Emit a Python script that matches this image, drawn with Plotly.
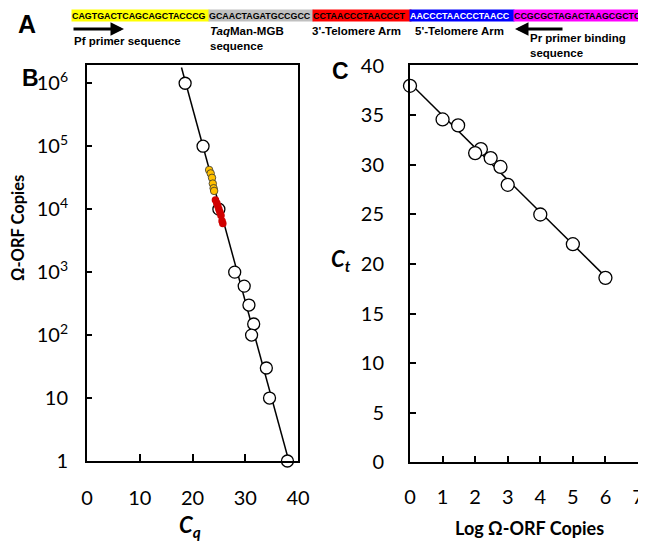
import numpy as np
import plotly.graph_objects as go

# ---------------- data ----------------
copies = [1e6, 1e5, 1e4, 1e3, 600, 300, 150, 100, 30, 10, 1]
cq_std = [18.6, 22.0, 25.0, 28.0, 29.8, 30.7, 31.6, 31.2, 34.0, 34.6, 38.0]

yellow_cq = [23.15, 23.45, 23.7, 23.85, 24.0, 24.1]
yellow_copies = [42000, 37000, 31500, 25500, 21500, 19500]

red_cq = [24.35, 24.6, 24.8, 25.0, 25.2, 25.4, 25.6, 25.75]
red_copies = [14000, 12500, 11200, 10000, 8900, 7900, 6500, 5900]

seq_parts = ["CAGTGACTCAGCAGCTACCCG", "GCAACTAGATGCCGCC", "CCTAACCCTAACCCT",
             "AACCCTAACCCTAACC", "CCGCGCTAGACTAAGCGCTC"]
seq_colors = ["#FFFF00", "#C0C0C0", "#FF0000", "#0000FF", "#FF00FF"]
seq_text_colors = ["black", "black", "black", "white", "black"]

b_ytickvals = [1, 10, 100, 1e3, 1e4, 1e5, 1e6]
b_yticktext = ["1", "10", "10<sup>2</sup>", "10<sup>3</sup>", "10<sup>4</sup>",
               "10<sup>5</sup>", "10<sup>6</sup>"]

# ---------------- fit ----------------
logc = np.log10(copies)
slope, intercept = np.polyfit(logc, cq_std, 1)
fit_log_b = np.array([-0.3, 6.25])
fit_log_c = np.array([0.0, 6.0])

# page body has an 8px default margin: figure placed at (8, 8)
OFF = 8
W, H = 646 - OFF, 542 - OFF
def px(x):
    return (x - OFF) / W
def py(y):
    return 1 - (y - OFF) / H

TICKFONT = dict(family="Lato, Carlito, sans-serif", size=20, color="black")
fig = go.Figure()

# Panel B
fig.add_trace(go.Scatter(x=intercept + slope * fit_log_b, y=10 ** fit_log_b, mode="lines",
                         line=dict(color="black", width=1.5), xaxis="x", yaxis="y",
                         showlegend=False, hoverinfo="skip"))
fig.add_trace(go.Scatter(x=cq_std, y=copies, mode="markers",
                         marker=dict(size=12, color="white", line=dict(color="black", width=1.3)),
                         xaxis="x", yaxis="y", showlegend=False, cliponaxis=False))
fig.add_trace(go.Scatter(x=yellow_cq, y=yellow_copies, mode="markers",
                         marker=dict(size=7.5, color="#FFC000", line=dict(color="#333333", width=0.8)),
                         xaxis="x", yaxis="y", showlegend=False))
fig.add_trace(go.Scatter(x=red_cq, y=red_copies, mode="markers",
                         marker=dict(size=7.5, color="#D00000", line=dict(width=0)),
                         xaxis="x", yaxis="y", showlegend=False))

# Panel C
fig.add_trace(go.Scatter(x=fit_log_c, y=intercept + slope * fit_log_c, mode="lines",
                         line=dict(color="black", width=1.5), xaxis="x2", yaxis="y2",
                         showlegend=False, hoverinfo="skip"))
fig.add_trace(go.Scatter(x=list(logc), y=cq_std, mode="markers",
                         marker=dict(size=13, color="white", line=dict(color="black", width=1.3)),
                         xaxis="x2", yaxis="y2", showlegend=False, cliponaxis=False))

axis_common = dict(showgrid=False, zeroline=False, showline=True, linecolor="black",
                   linewidth=2, mirror=True, ticks="inside", tickcolor="black",
                   tickwidth=2, tickfont=TICKFONT, automargin=False)

fig.update_layout(
    width=W, height=H, margin=dict(l=0, r=0, t=0, b=0),
    paper_bgcolor="white", plot_bgcolor="white", showlegend=False,
    xaxis=dict(domain=[px(87), px(298)], range=[0, 40], tickvals=[0, 10, 20, 30, 40],
               ticklen=7, ticklabelstandoff=18, **axis_common),
    yaxis=dict(domain=[py(461), py(65)], type="log", range=[0, 6.29],
               tickvals=b_ytickvals, ticktext=b_yticktext, ticklen=5,
               ticklabelstandoff=13, **axis_common),
    xaxis2=dict(domain=[px(410), px(638)], range=[0, 7], dtick=1, anchor="y2",
                ticklen=6, ticklabelstandoff=16, **axis_common),
    yaxis2=dict(domain=[py(462), py(65)], range=[0, 40.1], dtick=5, anchor="x2",
                ticklen=6, ticklabelstandoff=20, **axis_common),
)

ann = []
# Sequence band in panel A
char_w = 6.5
x0 = 71
for s, c, tc in zip(seq_parts, seq_colors, seq_text_colors):
    w = len(s) * char_w
    ann.append(dict(x=px(x0), y=py(15.5), xref="paper", yref="paper", xanchor="left",
                    yanchor="middle", text="<b>" + s + "</b>", showarrow=False,
                    bgcolor=c, width=w, height=11, borderpad=0, align="left",
                    font=dict(family="Liberation Sans, Arial, sans-serif",
                              size=8.9, color=tc)))
    x0 += w

LAB = dict(family="Liberation Sans, Arial, sans-serif", size=11.5, color="black")
def label(x, y, text, xanchor="left", size=None, **kw):
    f = dict(LAB)
    if size:
        f["size"] = size
    d = dict(x=px(x), y=py(y), xref="paper", yref="paper", xanchor=xanchor, yanchor="middle",
             text=text, showarrow=False, font=f, align="left")
    d.update(kw)
    ann.append(d)

label(16, 24, "<b>A</b>", size=25)
label(72, 41, "<b>Pf primer sequence</b>")
label(208, 38, "<b><i>Taq</i>Man-MGB<br>sequence</b>")
label(310, 31, "<b>3'-Telomere Arm</b>")
label(413, 31, "<b>5'-Telomere Arm</b>")
label(528, 46, "<b>Pr primer binding<br>sequence</b>")

# arrows
ann.append(dict(x=px(124), y=py(29), xref="paper", yref="paper", ax=-52, ay=0,
                text="", showarrow=True, arrowhead=2, arrowsize=0.9, arrowwidth=3,
                arrowcolor="black"))
ann.append(dict(x=px(515), y=py(29), xref="paper", yref="paper", ax=49, ay=0,
                text="", showarrow=True, arrowhead=2, arrowsize=0.9, arrowwidth=3,
                arrowcolor="black"))

# panel letters
label(20, 78, "<b>B</b>", size=23)
label(330, 71, "<b>C</b>", size=23)

TITLE = dict(family="Lato, Carlito, sans-serif", size=18, color="black")
ann.append(dict(x=px(18), y=py(228), xref="paper", yref="paper", text="<b>Ω-ORF Copies</b>",
                textangle=-90, showarrow=False,
                font=dict(family="Lato, Carlito, sans-serif", size=16.5, color="black"),
                xanchor="center", yanchor="middle"))
ann.append(dict(x=px(529), y=py(528), xref="paper", yref="paper", text="<b>Log Ω-ORF Copies</b>",
                showarrow=False, font=TITLE, xanchor="center", yanchor="middle"))
ann.append(dict(x=px(190), y=py(526), xref="paper", yref="paper", text="<b><i>C<sub>q</sub></i></b>",
                showarrow=False, font=dict(family="Lato, Carlito, sans-serif", size=22, color="black"),
                xanchor="center", yanchor="middle"))
ann.append(dict(x=px(341), y=py(260), xref="paper", yref="paper", text="<b><i>C<sub>t</sub></i></b>",
                showarrow=False, font=dict(family="Lato, Carlito, sans-serif", size=22, color="black"),
                xanchor="center", yanchor="middle"))

fig.update_layout(annotations=ann)
fig.write_html("out.html")
